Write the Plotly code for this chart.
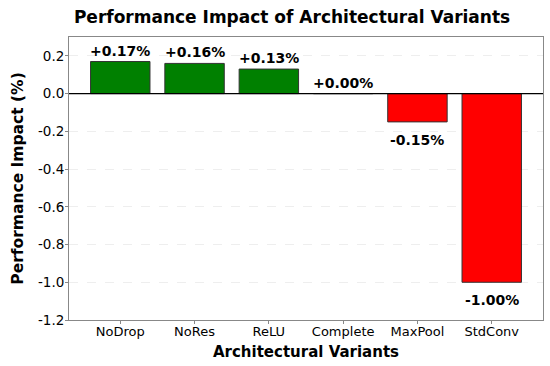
import plotly.graph_objects as go

variants = ["NoDrop", "NoRes", "ReLU", "Complete", "MaxPool", "StdConv"]
impact = [0.17, 0.16, 0.13, 0.00, -0.15, -1.00]
y_ticks = [0.2, 0.0, -0.2, -0.4, -0.6, -0.8, -1.0, -1.2]
y_tick_text = ["0.2", "0.0", "-0.2", "-0.4", "-0.6", "-0.8", "-1.0", "-1.2"]

colors = ["green" if v >= 0 else "red" for v in impact]
font = "DejaVu Sans, Verdana, sans-serif"

fig = go.Figure()
fig.add_trace(go.Bar(
    x=list(range(len(variants))), y=impact, width=0.8,
    marker=dict(color=colors, line=dict(color="#333333", width=1)),
    hoverinfo="skip",
))

for i, v in enumerate(impact):
    fig.add_annotation(
        x=i, y=v, text=f"<b>{v:+.2f}%</b>",
        showarrow=False, yanchor="bottom" if v >= 0 else "top",
        yshift=1 if v >= 0 else -8,
        font=dict(size=14, color="black", family=font),
    )

fig.add_shape(type="line", xref="paper", x0=0, x1=1, yref="y", y0=0, y1=0,
              line=dict(color="black", width=1.2))

fig.update_layout(
    width=550, height=366,
    margin=dict(l=69, r=7, t=37, b=46, autoexpand=False),
    paper_bgcolor="white", plot_bgcolor="white",
    showlegend=False,
    title=dict(text="<b>Performance Impact of Architectural Variants</b>",
               x=0.531, xref="container", xanchor="center", y=0.953, yanchor="middle",
               font=dict(size=17, color="black", family=font)),
    font=dict(family=font, color="black"),
)
fig.update_xaxes(
    range=[-0.69, 5.69], tickvals=list(range(len(variants))), ticktext=variants,
    showgrid=False, zeroline=False, showline=True, mirror=True, linecolor="#888888", linewidth=1,
    ticks="outside", ticklen=3, tickcolor="#888888", automargin=False,
    ticklabelstandoff=-4,
    tickfont=dict(size=13, color="black"),
    title=dict(text="<b>Architectural Variants</b>", font=dict(size=15, color="black"), standoff=8),
)
fig.update_yaxes(
    range=[-1.2, 0.3], tickvals=y_ticks, ticktext=y_tick_text,
    showgrid=True, gridcolor="#eeeeee", griddash="dash", gridwidth=1,
    zeroline=False, showline=True, mirror=True, linecolor="#888888", linewidth=1,
    ticks="outside", ticklen=3, tickcolor="#888888", automargin=False,
    ticklabelstandoff=-2,
    tickfont=dict(size=13.5, color="black"),
    title=dict(text="<b>Performance Impact (%)</b>", font=dict(size=15.5, color="black"), standoff=10),
)

fig.write_html("out.html", config={"displayModeBar": False},
               post_script="document.body.style.margin='0';document.body.style.padding='0';")
